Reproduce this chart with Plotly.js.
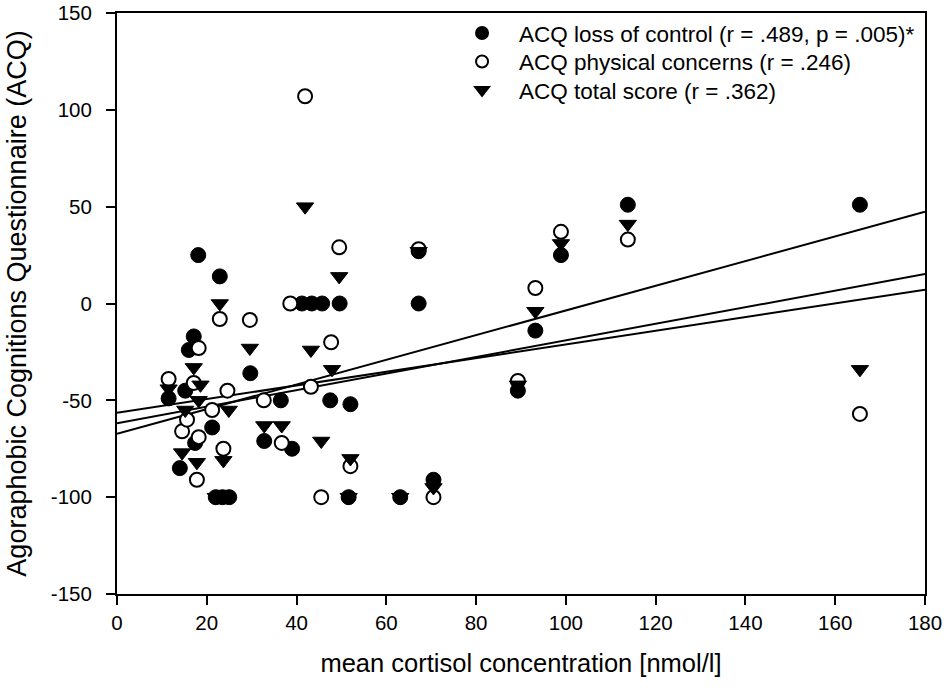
<!DOCTYPE html>
<html>
<head>
<meta charset="utf-8">
<script src="https://cdn.plot.ly/plotly-3.0.1.min.js"></script>
<style>html,body{margin:0;padding:0;background:#fff;}#chart{width:949px;height:692px;}</style>
</head>
<body>
<div id="chart"></div>
<script>
// ACQ loss of control (filled circles)
const lossX = [11.5, 14.0, 15.2, 16.0, 17.1, 18.1, 17.4, 21.2, 22.0, 23.5, 25.0, 22.9, 29.7, 32.8, 36.5, 39.0, 41.2, 43.4, 45.7, 49.6, 47.5, 52.0, 51.6, 63.1, 70.5, 67.2, 67.2, 89.3, 93.2, 98.9, 113.8, 165.5];
const lossY = [-49, -85, -45, -24, -17, 25, -72, -64, -100, -100, -100, 14, -36, -71, -50, -75, 0, 0, 0, 0, -50, -52, -100, -100, -91, 0, 27, -45, -14, 25, 51, 51];
// ACQ physical concerns (open circles)
const physX = [11.5, 14.5, 15.6, 17.1, 18.2, 18.2, 17.8, 21.2, 22.9, 23.7, 24.6, 29.6, 32.7, 36.7, 38.6, 41.9, 43.2, 45.5, 47.7, 49.5, 52.0, 67.2, 70.5, 89.3, 93.2, 98.9, 113.8, 165.5];
const physY = [-39, -66, -60, -41, -23, -69, -91, -55, -8, -75, -45, -8.5, -50, -72, 0, 107, -43, -100, -20, 29, -84, 28, -100, -40, 8, 37, 33, -57];
// ACQ total score (down triangles)
const totX = [11.5, 14.5, 15.2, 17.1, 17.8, 18.2, 18.6, 22.9, 23.7, 24.9, 29.6, 32.8, 36.7, 41.9, 43.2, 45.5, 47.9, 49.5, 52.0, 51.6, 63.1, 67.2, 70.5, 89.3, 93.2, 98.9, 113.8, 165.5, 22.0];
const totY = [-44, -77, -55, -33, -82, -50, -42, 0, -81, -55, -23, -63, -63, 50, -24, -71, -34, 14, -80, -100, -100, 27, -95, -42, -4, 31, 41, -34, -100];
// regression lines (ends at x = 0 and x = 180)
const fitX = [0, 180];
const fitLoss = [-67.3, 47.4];
const fitTot = [-61.8, 15.2];
const fitPhys = [-56.4, 7.1];

// tick labels
const xTickVals = [0, 20, 40, 60, 80, 100, 120, 140, 160, 180];
const xTickText = ['0', '20', '40', '60', '80', '100', '120', '140', '160', '180'];
const yTickVals = [-150, -100, -50, 0, 50, 100, 150];
const yTickText = ['-150', '-100', '-50', '0', '50', '100', '150'];

const legendNames = [
  'ACQ loss of control (r = .489, p = .005)*',
  'ACQ physical concerns (r = .246)',
  'ACQ total score (r = .362)'
];
const xTitle = 'mean cortisol concentration [nmol/l]';
const yTitle = 'Agoraphobic Cognitions Questionnaire (ACQ)';

const lineStyle = {color: '#000', width: 2};
const traces = [
  {x: fitX, y: fitLoss, mode: 'lines', line: lineStyle, showlegend: false, hoverinfo: 'skip'},
  {x: fitX, y: fitTot, mode: 'lines', line: lineStyle, showlegend: false, hoverinfo: 'skip'},
  {x: fitX, y: fitPhys, mode: 'lines', line: lineStyle, showlegend: false, hoverinfo: 'skip'},
  {x: lossX, y: lossY, mode: 'markers', name: legendNames[0], legend: 'legend',
   marker: {symbol: 'circle', size: 15, color: '#000', line: {color: '#000', width: 1}}},
  {x: physX, y: physY, mode: 'markers', name: legendNames[1], legend: 'legend2',
   marker: {symbol: 'circle', size: 14, color: '#fff', line: {color: '#000', width: 2}}},
  {x: totX, y: totY, mode: 'markers', name: legendNames[2], legend: 'legend3',
   marker: {symbol: 'triangle-down', size: 15, color: '#000', line: {color: '#000', width: 1}}}
];

const font = {family: 'Arial, "Liberation Sans", sans-serif', color: '#000'};
function legendAt(yPaper) {
  return {
    x: 0.406, y: yPaper, xanchor: 'left', yanchor: 'middle',
    bgcolor: 'rgba(0,0,0,0)', borderwidth: 0,
    font: Object.assign({size: 22.5}, font),
    tracegroupgap: 0, itemsizing: 'constant', itemwidth: 64
  };
}
const layout = {
  width: 949, height: 692,
  margin: {l: 117, r: 24, t: 13, b: 98},
  paper_bgcolor: '#fff', plot_bgcolor: '#fff',
  font: Object.assign({size: 21}, font),
  showlegend: true,
  legend: legendAt(0.9650),
  legend2: legendAt(0.9160),
  legend3: legendAt(0.8670),
  xaxis: {
    range: [0, 180], tickmode: 'array', tickvals: xTickVals, ticktext: xTickText,
    showgrid: false, zeroline: false,
    showline: true, linecolor: '#000', linewidth: 2, mirror: true,
    ticks: 'outside', ticklen: 9, tickwidth: 2, tickcolor: '#000',
    ticklabelstandoff: 0,
    tickfont: Object.assign({size: 20.5}, font),
    title: {text: xTitle, font: Object.assign({size: 25.5}, font), standoff: 22}
  },
  yaxis: {
    range: [-150, 150], tickmode: 'array', tickvals: yTickVals, ticktext: yTickText,
    showgrid: false, zeroline: false,
    showline: true, linecolor: '#000', linewidth: 2, mirror: true,
    ticks: 'outside', ticklen: 9, tickwidth: 2, tickcolor: '#000',
    ticklabelstandoff: 10,
    tickfont: Object.assign({size: 20.5}, font),
    title: {text: yTitle, font: Object.assign({size: 27}, font), standoff: 16}
  }
};
Plotly.newPlot('chart', traces, layout, {displayModeBar: false, staticPlot: true});
</script>
</body>
</html>
